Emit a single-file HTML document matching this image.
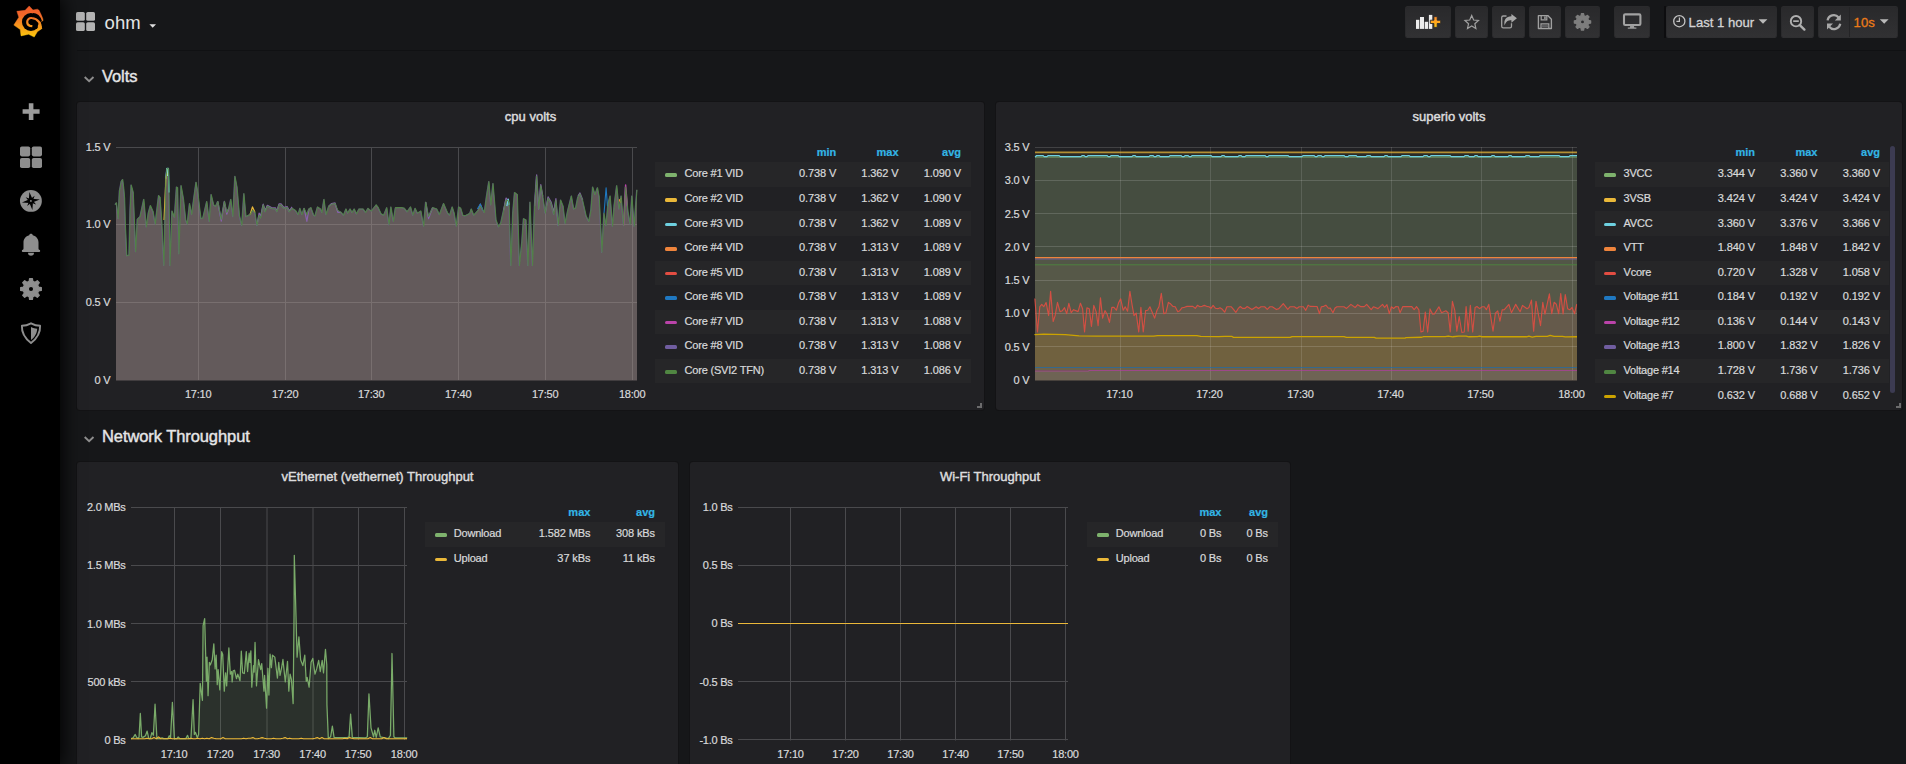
<!DOCTYPE html><html><head><meta charset="utf-8"><title>ohm - Grafana</title>
<style>

*{box-sizing:border-box;margin:0;padding:0}
html,body{width:1906px;height:764px;overflow:hidden;background:#161719;font-family:"Liberation Sans", sans-serif;color:#d8d9da}
.abs{position:absolute}
#side{position:absolute;left:0;top:0;width:60px;height:764px;background:#000;box-shadow:0 0 18px 2px #000;z-index:5}
.panel{position:absolute;background:#212124;border-radius:3px;box-shadow:0 0 0 1px #131315}
.ptitle{position:absolute;left:0;right:0;text-align:center;font-size:13px;line-height:16px;color:#dcdcdd;-webkit-text-stroke:0.45px #dcdcdd}
.yl{-webkit-text-stroke:0.22px #d8d9da;position:absolute;font-size:11px;line-height:12px;text-align:right;white-space:nowrap;color:#d8d9da;letter-spacing:-0.25px}
.xl{-webkit-text-stroke:0.22px #d8d9da;position:absolute;font-size:11px;line-height:12px;text-align:center;white-space:nowrap;width:40px;margin-left:-20px;color:#d8d9da;letter-spacing:-0.2px}
.lrow{position:absolute;height:24.6px}
.lrow.alt{background:#262628}
.lg{-webkit-text-stroke:0.22px #d8d9da;position:absolute;font-size:11px;line-height:13px;white-space:nowrap;color:#d8d9da;letter-spacing:-0.2px}
.lv{-webkit-text-stroke:0.22px #d8d9da;position:absolute;font-size:11px;line-height:13px;white-space:nowrap;text-align:right;color:#d8d9da;width:80px;letter-spacing:-0.1px}
.lh{-webkit-text-stroke:0.2px #33b5e5;position:absolute;font-size:11px;line-height:13px;white-space:nowrap;text-align:right;color:#33b5e5;font-weight:bold;width:80px}
.sw{position:absolute;width:12.1px;height:3.6px;border-radius:1.5px}
.rowt{position:absolute;font-size:16.5px;letter-spacing:-0.08px;line-height:20px;color:#e6e6e7;-webkit-text-stroke:0.42px #e6e6e7;white-space:nowrap}
.nbtn{position:absolute;top:6px;height:32px;border-radius:2.5px;background:linear-gradient(#29292b,#313133);border:1px solid #2a2a2c;border-bottom-color:#2f2f31}
svg{position:absolute;left:0;top:0;overflow:visible}

</style></head><body>
<div class="panel" style="left:77px;top:102px;width:907px;height:308px"><div class="ptitle" style="top:7px">cpu volts</div></div>
<div class="panel" style="left:996px;top:102px;width:906px;height:308px"><div class="ptitle" style="top:7px">superio volts</div></div>
<div class="panel" style="border-radius:3px 3px 0 0;left:77px;top:462px;width:601px;height:302px"><div class="ptitle" style="top:7px">vEthernet (vethernet) Throughput</div></div>
<div class="panel" style="border-radius:3px 3px 0 0;left:690px;top:462px;width:600px;height:302px"><div class="ptitle" style="top:7px">Wi-Fi Throughput</div></div>
<div class="abs" style="left:977px;top:403px;width:5px;height:5px;border-right:2px solid #6b6b6c;border-bottom:2px solid #6b6b6c"></div>
<div class="abs" style="left:1896px;top:403px;width:5px;height:5px;border-right:2px solid #6b6b6c;border-bottom:2px solid #6b6b6c"></div>
<svg width="1906" height="764" viewBox="0 0 1906 764">
<g id="c1">
<rect x="116.0" y="147.0" width="521.0" height="1" fill="#4a4a4d"/><rect x="116.0" y="224.0" width="521.0" height="1" fill="#4a4a4d"/><rect x="116.0" y="302.0" width="521.0" height="1" fill="#4a4a4d"/><rect x="198.0" y="147.0" width="1" height="233.0" fill="#4a4a4d"/><rect x="285.0" y="147.0" width="1" height="233.0" fill="#4a4a4d"/><rect x="371.0" y="147.0" width="1" height="233.0" fill="#4a4a4d"/><rect x="458.0" y="147.0" width="1" height="233.0" fill="#4a4a4d"/><rect x="545.0" y="147.0" width="1" height="233.0" fill="#4a4a4d"/><rect x="632.0" y="147.0" width="1" height="233.0" fill="#4a4a4d"/>
<path d="M116.00 380.50 L116.00 204.18 L115.44 204.18 L116.54 202.81 L118.19 218.62 L119.56 191.12 L121.35 181.50 L122.72 179.43 L123.69 187.00 L124.65 197.99 L125.47 225.49 L126.85 255.73 L129.18 255.05 L130.15 211.74 L131.25 184.93 L133.31 192.50 L134.68 225.49 L135.65 251.61 L137.43 219.30 L140.18 216.55 L143.89 199.37 L146.37 226.86 L148.43 213.12 L150.49 205.56 L153.24 211.74 L155.30 224.11 L158.74 195.52 L160.12 197.31 L161.77 219.99 L163.97 265.36 L165.89 178.75 L166.99 168.44 L168.37 168.44 L169.05 192.50 L170.01 265.36 L172.08 211.05 L174.55 217.24 L176.61 187.00 L177.71 187.68 L178.95 253.67 L181.15 185.62 L183.49 198.68 L185.82 219.99 L187.34 224.11 L189.67 203.49 L191.74 214.49 L196.14 182.18 L197.92 192.50 L199.98 210.37 L201.08 218.62 L203.01 217.93 L206.86 201.43 L209.33 221.37 L211.26 194.56 L213.73 204.87 L215.79 206.24 L217.86 201.43 L221.29 219.30 L224.46 201.43 L226.79 212.43 L228.85 208.30 L230.92 199.37 L232.98 216.55 L235.04 176.27 L237.10 187.00 L239.58 215.87 L241.91 225.49 L243.98 193.59 L246.04 216.55 L250.16 214.49 L252.50 210.37 L254.97 212.43 L257.04 225.49 L259.10 215.18 L260.75 217.93 L263.22 204.87 L265.29 211.74 L267.35 206.24 L271.47 208.30 L275.60 208.99 L276.97 211.74 L279.03 204.87 L281.10 204.87 L283.84 208.30 L287.28 207.62 L289.34 211.74 L292.09 208.30 L295.53 210.37 L298.28 214.49 L300.00 208.30 L302.06 214.49 L304.12 208.30 L306.87 214.49 L308.94 208.99 L311.00 207.62 L313.75 215.18 L315.12 215.87 L317.60 206.93 L320.62 208.99 L322.00 212.43 L324.06 199.37 L326.12 214.49 L328.87 206.24 L331.62 204.18 L335.06 203.49 L337.81 210.37 L341.24 212.43 L343.72 215.18 L346.05 208.99 L347.84 213.12 L350.18 208.99 L352.24 212.43 L354.30 208.99 L356.64 213.80 L359.11 208.99 L363.24 208.99 L365.71 212.43 L368.05 208.30 L371.49 211.05 L376.30 204.87 L378.36 207.62 L381.11 213.80 L383.86 215.18 L386.88 207.62 L389.08 224.80 L391.01 206.93 L393.48 221.37 L395.55 207.62 L401.73 207.62 L404.48 208.30 L407.23 211.74 L410.67 206.93 L413.01 215.18 L415.20 208.30 L417.54 213.12 L420.98 211.05 L423.73 226.18 L425.79 202.12 L428.54 216.55 L432.66 207.62 L436.79 208.99 L439.54 214.49 L443.66 203.49 L447.79 213.12 L449.85 215.18 L452.32 206.93 L454.25 213.12 L456.45 226.18 L458.78 206.93 L460.85 208.30 L462.91 215.18 L464.97 215.87 L469.10 213.80 L470.00 213.12 L471.37 208.99 L473.85 215.18 L478.25 210.37 L480.31 206.24 L482.37 208.99 L484.43 212.43 L486.50 197.31 L488.97 181.50 L490.90 204.87 L493.10 183.56 L495.02 206.24 L496.12 219.99 L498.59 226.86 L500.93 222.74 L503.68 210.37 L506.02 200.06 L508.22 200.74 L509.18 204.87 L510.97 265.36 L512.89 213.12 L514.68 192.50 L517.43 194.56 L518.12 219.99 L519.49 265.36 L521.97 241.99 L523.62 218.62 L526.09 219.99 L528.01 265.36 L530.08 202.12 L532.55 265.36 L534.61 206.24 L536.68 176.00 L538.74 208.99 L540.80 185.62 L542.86 196.62 L545.34 213.12 L548.09 197.99 L551.11 203.49 L553.86 214.49 L555.92 200.06 L558.26 225.49 L560.73 200.06 L563.21 206.24 L565.13 223.43 L567.61 211.74 L571.46 195.93 L573.79 208.99 L575.86 207.62 L577.92 197.31 L579.98 193.87 L582.73 200.74 L586.17 215.87 L588.92 221.37 L590.98 210.37 L592.77 187.00 L595.10 194.56 L597.58 187.68 L599.23 196.62 L600.60 222.74 L601.98 252.30 L604.04 213.12 L606.10 225.49 L608.16 203.49 L610.23 195.93 L612.56 226.18 L614.35 204.87 L616.82 185.62 L619.16 208.99 L621.22 195.93 L623.70 225.49 L625.62 187.00 L628.10 211.74 L630.16 224.11 L631.95 195.93 L634.28 226.18 L637.00 189.75 L637.00 380.50 Z" fill="#a59392" fill-opacity="0.5"/>
<path d="M115.65 204.28 L115.09 204.28 L116.19 202.91 L117.84 218.72 L119.21 191.22 L121.00 181.60 L122.37 179.53 L123.34 187.10 L124.30 198.09 L125.12 225.59 L126.50 255.83 L128.83 255.15 L129.80 211.84 L130.90 185.03 L132.96 192.60 L134.33 225.59 L135.30 251.71 L137.08 219.40 L139.83 216.65 L143.54 199.47 L146.02 226.96 L148.08 213.22 L150.14 205.66 L152.89 211.84 L154.95 224.21 L158.39 195.62 L159.77 197.41 L161.42 220.09 L163.62 265.46 L165.54 178.85 L166.64 168.54 L168.02 168.54 L168.70 192.60 L169.66 265.46 L171.73 211.15 L174.20 217.34 L176.26 187.10 L177.36 187.78 L178.60 253.77 L180.80 185.72 L183.14 198.78 L185.47 220.09 L186.99 224.21 L189.32 203.59 L191.39 214.59 L195.79 182.28 L197.57 192.60 L199.63 210.47 L200.73 218.72 L202.66 218.03 L206.51 201.53 L208.98 221.47 L210.91 194.66 L213.38 204.97 L215.44 206.34 L217.51 201.53 L220.94 219.40 L224.11 201.53 L226.44 212.53 L228.50 208.40 L230.57 199.47 L232.63 216.65 L234.69 176.37 L236.75 187.10 L239.23 215.97 L241.56 225.59 L243.63 193.69 L245.69 216.65 L249.81 214.59 L252.15 210.47 L254.62 212.53 L256.69 225.59 L258.75 215.28 L260.40 218.03 L262.87 204.97 L264.94 211.84 L267.00 206.34 L271.12 208.40 L275.25 209.09 L276.62 211.84 L278.68 204.97 L280.75 204.97 L283.49 208.40 L286.93 207.72 L288.99 211.84 L291.74 208.40 L295.18 210.47 L297.93 214.59 L299.65 208.40 L301.71 214.59 L303.77 208.40 L306.52 214.59 L308.59 209.09 L310.65 207.72 L313.40 215.28 L314.77 215.97 L317.25 207.03 L320.27 209.09 L321.65 212.53 L323.71 199.47 L325.77 214.59 L328.52 206.34 L331.27 204.28 L334.71 203.59 L337.46 210.47 L340.89 212.53 L343.37 215.28 L345.70 209.09 L347.49 213.22 L349.83 209.09 L351.89 212.53 L353.95 209.09 L356.29 213.90 L358.76 209.09 L362.89 209.09 L365.36 212.53 L367.70 208.40 L371.14 211.15 L375.95 204.97 L378.01 207.72 L380.76 213.90 L383.51 215.28 L386.53 207.72 L388.73 224.90 L390.66 207.03 L393.13 221.47 L395.20 207.72 L401.38 207.72 L404.13 208.40 L406.88 211.84 L410.32 207.03 L412.66 215.28 L414.85 208.40 L417.19 213.22 L420.63 211.15 L423.38 226.28 L425.44 202.22 L428.19 216.65 L432.31 207.72 L436.44 209.09 L439.19 214.59 L443.31 203.59 L447.44 213.22 L449.50 215.28 L451.97 207.03 L453.90 213.22 L456.10 226.28 L458.43 207.03 L460.50 208.40 L462.56 215.28 L464.62 215.97 L468.75 213.90 L469.65 213.22 L471.02 209.09 L473.50 215.28 L477.90 210.47 L479.96 206.34 L482.02 209.09 L484.08 212.53 L486.15 197.41 L488.62 181.60 L490.55 204.97 L492.75 183.66 L494.67 206.34 L495.77 220.09 L498.24 226.96 L500.58 222.84 L503.33 210.47 L505.67 200.16 L507.87 200.84 L508.83 204.97 L510.62 265.46 L512.54 213.22 L514.33 192.60 L517.08 194.66 L517.77 220.09 L519.14 265.46 L521.62 242.09 L523.27 218.72 L525.74 220.09 L527.66 265.46 L529.73 202.22 L532.20 265.46 L534.26 206.34 L536.33 176.10 L538.39 209.09 L540.45 185.72 L542.51 196.72 L544.99 213.22 L547.74 198.09 L550.76 203.59 L553.51 214.59 L555.57 200.16 L557.91 225.59 L560.38 200.16 L562.86 206.34 L564.78 223.53 L567.26 211.84 L571.11 196.03 L573.44 209.09 L575.51 207.72 L577.57 197.41 L579.63 193.97 L582.38 200.84 L585.82 215.97 L588.57 221.47 L590.63 210.47 L592.42 187.10 L594.75 194.66 L597.23 187.78 L598.88 196.72 L600.25 222.84 L601.63 252.40 L603.69 213.22 L605.75 225.59 L607.81 203.59 L609.88 196.03 L612.21 226.28 L614.00 204.97 L616.47 185.72 L618.81 209.09 L620.87 196.03 L623.35 225.59 L625.27 187.10 L627.75 211.84 L629.81 224.21 L631.60 196.03 L633.93 226.28 L636.65 189.85" fill="none" stroke="#705da0" stroke-width="1.1" stroke-opacity="0.75" stroke-linejoin="round"/>
<path d="M304.12 208.30 L306.87 221.37 L308.94 208.99" fill="none" stroke="#8a62b0" stroke-width="1.2" stroke-opacity="0.95" stroke-linejoin="round"/>
<path d="M328.87 206.24 L331.62 203.49 L335.06 202.81 L337.81 212.43 L341.24 212.43" fill="none" stroke="#8a62b0" stroke-width="1.2" stroke-opacity="0.95" stroke-linejoin="round"/>
<path d="M425.79 202.12 L428.54 218.62 L432.66 207.62" fill="none" stroke="#8a62b0" stroke-width="1.2" stroke-opacity="0.95" stroke-linejoin="round"/>
<path d="M478.25 210.37 L480.31 204.18 L482.37 208.99" fill="none" stroke="#8a62b0" stroke-width="1.2" stroke-opacity="0.95" stroke-linejoin="round"/>
<path d="M503.68 210.37 L506.02 197.99 L508.22 200.74" fill="none" stroke="#8a62b0" stroke-width="1.2" stroke-opacity="0.95" stroke-linejoin="round"/>
<path d="M545.34 213.12 L548.09 196.89 L551.11 202.12 L553.86 211.74 L555.92 198.68 L558.26 225.49" fill="none" stroke="#8a62b0" stroke-width="1.2" stroke-opacity="0.95" stroke-linejoin="round"/>
<path d="M577.92 196.34 L579.98 192.91 L582.73 200.06" fill="none" stroke="#8a62b0" stroke-width="1.2" stroke-opacity="0.95" stroke-linejoin="round"/>
<path d="M534.61 206.24 L536.68 174.90 L538.74 208.99 L540.80 184.52 L542.86 196.62" fill="none" stroke="#8a62b0" stroke-width="1.2" stroke-opacity="0.95" stroke-linejoin="round"/>
<path d="M217.86 201.43 L221.29 221.09 L224.46 201.43 L226.79 214.22 L228.85 208.30" fill="none" stroke="#8a62b0" stroke-width="1.2" stroke-opacity="0.95" stroke-linejoin="round"/>
<path d="M257.04 225.49 L259.10 213.12 L260.75 215.87 L263.22 204.18 L265.29 210.37 L267.35 205.28 L271.47 207.62 L275.60 207.89 L276.97 211.05 L279.03 203.91 L281.10 203.91 L283.84 207.34 L287.28 206.66 L289.34 210.78 L292.09 206.93" fill="none" stroke="#8a62b0" stroke-width="1.2" stroke-opacity="0.95" stroke-linejoin="round"/>
<path d="M165.89 178.75 L166.99 168.44 L168.37 168.44 L169.05 192.50" fill="none" stroke="#6ed0e0" stroke-width="1.4" stroke-opacity="1" stroke-linejoin="round"/>
<rect x="166.6" y="168" width="2.2" height="8" fill="#8fdde6"/>
<path d="M163.97 219.99 L165.89 178.75 L166.99 173.25" fill="none" stroke="#eab839" stroke-width="1.1" stroke-opacity="1" stroke-linejoin="round"/>
<path d="M250.16 214.49 L252.50 206.93 L254.97 212.43" fill="none" stroke="#eab839" stroke-width="1.3" stroke-opacity="1" stroke-linejoin="round"/>
<path d="M604.04 213.12 L606.10 187.68 L607.48 206.24" fill="none" stroke="#1f78c1" stroke-width="1.1" stroke-opacity="1" stroke-linejoin="round"/>
<path d="M477.34 208.99 L480.37 203.91 L482.84 210.37" fill="none" stroke="#1f78c1" stroke-width="1.1" stroke-opacity="1" stroke-linejoin="round"/>
<path d="M623.70 225.49 L625.62 184.93 L627.41 206.24" fill="none" stroke="#ba43a9" stroke-width="1.4" stroke-opacity="1" stroke-linejoin="round"/>
<path d="M506.84 206.24 L508.22 199.09 L509.18 204.87" fill="none" stroke="#6ed0e0" stroke-width="1.3" stroke-opacity="1" stroke-linejoin="round"/>
<path d="M619.16 199.37 L620.54 202.12 L621.22 197.99" fill="none" stroke="#ef843c" stroke-width="1.3" stroke-opacity="1" stroke-linejoin="round"/>
<path d="M116.00 204.18 L115.44 204.18 L116.54 202.81 L118.19 218.62 L119.56 191.12 L121.35 181.50 L122.72 179.43 L123.69 187.00 L124.65 197.99 L125.47 225.49 L126.85 255.73 L129.18 255.05 L130.15 211.74 L131.25 184.93 L133.31 192.50 L134.68 225.49 L135.65 251.61 L137.43 219.30 L140.18 216.55 L143.89 199.37 L146.37 226.86 L148.43 213.12 L150.49 205.56 L153.24 211.74 L155.30 224.11 L158.74 195.52 L160.12 197.31 L161.77 219.99 L163.97 265.36 L165.89 178.75 L166.99 168.44 L168.37 168.44 L169.05 192.50 L170.01 265.36 L172.08 211.05 L174.55 217.24 L176.61 187.00 L177.71 187.68 L178.95 253.67 L181.15 185.62 L183.49 198.68 L185.82 219.99 L187.34 224.11 L189.67 203.49 L191.74 214.49 L196.14 182.18 L197.92 192.50 L199.98 210.37 L201.08 218.62 L203.01 217.93 L206.86 201.43 L209.33 221.37 L211.26 194.56 L213.73 204.87 L215.79 206.24 L217.86 201.43 L221.29 219.30 L224.46 201.43 L226.79 212.43 L228.85 208.30 L230.92 199.37 L232.98 216.55 L235.04 176.27 L237.10 187.00 L239.58 215.87 L241.91 225.49 L243.98 193.59 L246.04 216.55 L250.16 214.49 L252.50 210.37 L254.97 212.43 L257.04 225.49 L259.10 215.18 L260.75 217.93 L263.22 204.87 L265.29 211.74 L267.35 206.24 L271.47 208.30 L275.60 208.99 L276.97 211.74 L279.03 204.87 L281.10 204.87 L283.84 208.30 L287.28 207.62 L289.34 211.74 L292.09 208.30 L295.53 210.37 L298.28 214.49 L300.00 208.30 L302.06 214.49 L304.12 208.30 L306.87 214.49 L308.94 208.99 L311.00 207.62 L313.75 215.18 L315.12 215.87 L317.60 206.93 L320.62 208.99 L322.00 212.43 L324.06 199.37 L326.12 214.49 L328.87 206.24 L331.62 204.18 L335.06 203.49 L337.81 210.37 L341.24 212.43 L343.72 215.18 L346.05 208.99 L347.84 213.12 L350.18 208.99 L352.24 212.43 L354.30 208.99 L356.64 213.80 L359.11 208.99 L363.24 208.99 L365.71 212.43 L368.05 208.30 L371.49 211.05 L376.30 204.87 L378.36 207.62 L381.11 213.80 L383.86 215.18 L386.88 207.62 L389.08 224.80 L391.01 206.93 L393.48 221.37 L395.55 207.62 L401.73 207.62 L404.48 208.30 L407.23 211.74 L410.67 206.93 L413.01 215.18 L415.20 208.30 L417.54 213.12 L420.98 211.05 L423.73 226.18 L425.79 202.12 L428.54 216.55 L432.66 207.62 L436.79 208.99 L439.54 214.49 L443.66 203.49 L447.79 213.12 L449.85 215.18 L452.32 206.93 L454.25 213.12 L456.45 226.18 L458.78 206.93 L460.85 208.30 L462.91 215.18 L464.97 215.87 L469.10 213.80 L470.00 213.12 L471.37 208.99 L473.85 215.18 L478.25 210.37 L480.31 206.24 L482.37 208.99 L484.43 212.43 L486.50 197.31 L488.97 181.50 L490.90 204.87 L493.10 183.56 L495.02 206.24 L496.12 219.99 L498.59 226.86 L500.93 222.74 L503.68 210.37 L506.02 200.06 L508.22 200.74 L509.18 204.87 L510.97 265.36 L512.89 213.12 L514.68 192.50 L517.43 194.56 L518.12 219.99 L519.49 265.36 L521.97 241.99 L523.62 218.62 L526.09 219.99 L528.01 265.36 L530.08 202.12 L532.55 265.36 L534.61 206.24 L536.68 176.00 L538.74 208.99 L540.80 185.62 L542.86 196.62 L545.34 213.12 L548.09 197.99 L551.11 203.49 L553.86 214.49 L555.92 200.06 L558.26 225.49 L560.73 200.06 L563.21 206.24 L565.13 223.43 L567.61 211.74 L571.46 195.93 L573.79 208.99 L575.86 207.62 L577.92 197.31 L579.98 193.87 L582.73 200.74 L586.17 215.87 L588.92 221.37 L590.98 210.37 L592.77 187.00 L595.10 194.56 L597.58 187.68 L599.23 196.62 L600.60 222.74 L601.98 252.30 L604.04 213.12 L606.10 225.49 L608.16 203.49 L610.23 195.93 L612.56 226.18 L614.35 204.87 L616.82 185.62 L619.16 208.99 L621.22 195.93 L623.70 225.49 L625.62 187.00 L628.10 211.74 L630.16 224.11 L631.95 195.93 L634.28 226.18 L637.00 189.75" fill="none" stroke="#508642" stroke-width="1.05" stroke-opacity="0.92" stroke-linejoin="round"/>
</g>
<g id="c2">
<rect x="1035" y="152.36" width="542" height="4.13" fill="#2a2a27"/>
<rect x="1035" y="156.49" width="542" height="101.19" fill="#454d40"/>
<rect x="1035" y="257.68" width="542" height="7.06" fill="#525647"/>
<rect x="1035" y="264.73" width="542" height="75.27" fill="#565848"/>
<path d="M1035.00 340.00 L1035.00 298.88 L1034.91 298.88 L1037.46 331.85 L1039.81 306.73 L1041.78 304.38 L1043.74 306.73 L1046.09 302.41 L1048.65 315.56 L1050.61 291.42 L1053.16 321.45 L1055.12 315.56 L1057.48 302.41 L1060.03 311.64 L1062.38 310.66 L1064.54 307.71 L1066.70 313.60 L1068.86 303.40 L1071.22 312.62 L1073.57 309.68 L1078.09 311.64 L1080.44 303.20 L1082.60 308.69 L1084.56 331.85 L1086.92 307.71 L1089.27 308.69 L1091.43 326.36 L1093.79 305.36 L1096.14 311.64 L1098.11 325.77 L1100.46 297.90 L1102.62 318.12 L1104.98 310.66 L1107.13 314.19 L1109.49 322.43 L1111.84 307.32 L1114.00 307.32 L1116.36 310.26 L1118.71 302.41 L1120.68 298.88 L1123.23 310.26 L1125.19 306.73 L1127.55 311.25 L1129.90 291.42 L1132.06 304.77 L1134.02 315.56 L1136.18 313.01 L1138.73 331.85 L1140.89 307.32 L1143.25 331.85 L1145.60 310.66 L1147.76 310.26 L1149.92 306.73 L1154.63 318.12 L1156.99 310.26 L1158.95 306.73 L1161.31 293.39 L1163.86 313.60 L1165.82 313.01 L1168.37 302.41 L1170.53 303.79 L1172.89 306.34 L1175.24 306.73 L1177.79 311.64 L1179.75 310.66 L1182.11 307.71 L1184.47 307.32 L1187.02 306.34 L1192.90 306.34 L1195.26 308.30 L1197.42 305.36 L1199.77 306.73 L1202.13 306.34 L1204.29 305.36 L1206.64 306.34 L1209.00 306.73 L1210.96 308.30 L1213.12 305.36 L1215.48 308.30 L1217.83 308.69 L1219.99 307.71 L1222.35 309.28 L1224.70 312.23 L1226.89 306.74 L1231.14 306.74 L1233.50 309.39 L1235.86 312.41 L1238.22 308.44 L1240.30 306.55 L1242.47 308.44 L1244.83 308.44 L1247.19 306.55 L1249.55 307.97 L1251.91 309.58 L1256.16 306.74 L1258.53 308.44 L1260.89 306.74 L1264.66 306.74 L1267.31 309.39 L1269.86 306.74 L1272.22 306.74 L1276.47 309.58 L1278.83 308.63 L1283.27 303.53 L1287.80 309.39 L1290.16 306.74 L1294.41 306.74 L1296.77 308.44 L1299.13 306.74 L1303.38 306.74 L1305.74 310.33 L1308.11 305.14 L1309.99 306.36 L1317.08 306.55 L1319.44 313.64 L1321.33 306.74 L1323.69 306.36 L1325.86 305.14 L1328.41 308.25 L1330.30 307.97 L1332.94 312.69 L1335.02 307.97 L1336.91 306.74 L1343.99 306.74 L1346.54 308.44 L1350.89 304.38 L1355.14 307.50 L1357.68 304.67 L1360.52 306.55 L1364.30 306.55 L1366.66 304.38 L1371.19 309.58 L1373.55 306.74 L1377.99 308.63 L1382.52 304.38 L1384.60 307.31 L1386.96 304.67 L1389.32 313.64 L1391.40 306.74 L1393.57 308.44 L1395.93 306.55 L1398.29 306.74 L1400.00 312.69 L1402.83 306.55 L1411.80 306.55 L1414.17 309.58 L1416.53 306.55 L1418.89 309.86 L1420.97 331.86 L1423.14 331.11 L1425.31 312.03 L1427.67 332.05 L1430.03 308.91 L1432.58 314.11 L1434.47 313.92 L1438.91 306.74 L1441.55 312.69 L1445.80 310.80 L1448.16 312.69 L1450.24 331.86 L1452.41 301.36 L1454.77 310.33 L1456.85 331.11 L1459.21 316.47 L1461.86 332.52 L1464.22 332.05 L1466.11 306.55 L1468.18 331.11 L1470.36 305.42 L1472.72 332.05 L1475.08 307.50 L1476.97 306.55 L1479.61 308.63 L1482.16 306.74 L1484.33 306.74 L1486.41 309.58 L1488.77 304.38 L1493.02 331.11 L1495.38 313.16 L1497.74 310.80 L1499.92 321.19 L1502.18 309.86 L1504.35 309.58 L1508.89 304.38 L1511.44 312.69 L1515.69 304.38 L1520.12 311.75 L1522.49 305.42 L1527.02 308.73 L1528.91 307.50 L1531.46 300.13 L1533.63 331.11 L1535.99 301.36 L1540.52 325.63 L1542.79 302.30 L1544.96 314.11 L1549.40 293.80 L1551.76 313.64 L1554.12 302.30 L1556.29 304.19 L1558.66 313.64 L1560.73 293.52 L1563.09 313.92 L1565.27 294.47 L1567.63 308.63 L1569.80 309.86 L1572.07 307.50 L1574.52 313.64 L1576.60 304.67 L1577.00 304.67 L1577.00 340.00 Z" fill="#655a4b"/>
<path d="M1035.00 367.52 L1035.00 334.60 L1034.91 334.60 L1043.74 334.21 L1065.33 334.60 L1079.07 335.78 L1096.73 336.17 L1153.65 336.17 L1157.58 335.58 L1196.83 335.58 L1200.76 336.37 L1218.42 336.57 L1225.00 336.30 L1231.61 336.30 L1233.50 337.43 L1290.16 337.43 L1292.05 336.58 L1343.99 336.58 L1346.35 337.43 L1374.21 337.43 L1376.10 338.19 L1405.00 338.19 L1405.67 337.72 L1421.72 337.25 L1423.61 336.58 L1445.33 336.58 L1448.16 336.02 L1452.89 336.77 L1458.55 336.21 L1466.11 336.21 L1468.94 336.77 L1477.44 336.58 L1479.80 336.11 L1482.16 336.77 L1526.55 336.77 L1528.91 336.21 L1532.21 337.06 L1535.99 336.40 L1547.32 336.30 L1550.16 335.45 L1553.93 336.40 L1562.43 336.30 L1565.27 336.96 L1576.60 336.77 L1577.00 336.77 L1577.00 367.52 Z" fill="#70613f"/>
<rect x="1035" y="367.52" width="542" height="3.26" fill="#6d6249"/>
<rect x="1035" y="370.78" width="542" height="9.72" fill="#6e6354"/>
<rect x="1035" y="147.0" width="542" height="1" fill="#ffffff" fill-opacity="0.15"/>
<rect x="1035" y="180.0" width="542" height="1" fill="#ffffff" fill-opacity="0.15"/>
<rect x="1035" y="213.0" width="542" height="1" fill="#ffffff" fill-opacity="0.15"/>
<rect x="1035" y="246.0" width="542" height="1" fill="#ffffff" fill-opacity="0.15"/>
<rect x="1035" y="280.0" width="542" height="1" fill="#ffffff" fill-opacity="0.15"/>
<rect x="1035" y="313.0" width="542" height="1" fill="#ffffff" fill-opacity="0.15"/>
<rect x="1035" y="346.0" width="542" height="1" fill="#ffffff" fill-opacity="0.15"/>
<rect x="1120.0" y="147" width="1" height="233" fill="#ffffff" fill-opacity="0.12"/>
<rect x="1210.0" y="147" width="1" height="233" fill="#ffffff" fill-opacity="0.12"/>
<rect x="1301.0" y="147" width="1" height="233" fill="#ffffff" fill-opacity="0.12"/>
<rect x="1391.0" y="147" width="1" height="233" fill="#ffffff" fill-opacity="0.12"/>
<rect x="1481.0" y="147" width="1" height="233" fill="#ffffff" fill-opacity="0.12"/>
<rect x="1572.0" y="147" width="1" height="233" fill="#ffffff" fill-opacity="0.12"/>
<line x1="1035" x2="1577" y1="152.36" y2="152.36" stroke="#eab839" stroke-width="1.6" stroke-opacity="0.72"/>
<line x1="1035" x2="1577" y1="157.02" y2="157.02" stroke="#7eb26d" stroke-width="1.0" stroke-opacity="0.9"/>
<path d="M1035.00 156.92 L1037.00 155.56 L1036.20 155.56 L1043.00 155.56 L1044.20 156.62 L1047.00 156.62 L1048.20 155.56 L1059.00 155.56 L1060.20 156.62 L1081.00 156.62 L1082.20 155.56 L1084.00 155.56 L1085.20 156.62 L1087.00 156.62 L1088.20 155.56 L1107.00 155.56 L1108.20 156.62 L1110.00 156.62 L1111.20 155.56 L1118.00 155.56 L1119.20 156.62 L1132.00 156.62 L1133.20 155.56 L1135.00 155.56 L1136.20 156.62 L1149.00 156.62 L1150.20 155.56 L1153.00 155.56 L1154.20 156.62 L1156.00 156.62 L1157.20 155.56 L1159.00 155.56 L1160.20 156.62 L1169.00 156.62 L1170.20 155.56 L1181.00 155.56 L1182.20 156.62 L1184.00 156.62 L1185.20 155.56 L1188.00 155.56 L1189.20 156.62 L1191.00 156.62 L1192.20 155.56 L1211.00 155.56 L1212.20 156.62 L1221.00 156.62 L1222.20 155.56 L1224.00 155.56 L1225.20 156.62 L1238.00 156.62 L1239.20 155.56 L1241.00 155.56 L1242.20 156.62 L1245.00 156.62 L1246.20 155.56 L1265.00 155.56 L1266.20 156.62 L1268.00 156.62 L1269.20 155.56 L1288.00 155.56 L1289.20 156.62 L1302.00 156.62 L1303.20 155.56 L1314.00 155.56 L1315.20 156.62 L1317.00 156.62 L1318.20 155.56 L1321.00 155.56 L1322.20 156.62 L1324.00 156.62 L1325.20 155.56 L1344.00 155.56 L1345.20 156.62 L1348.00 156.62 L1349.20 155.56 L1356.00 155.56 L1357.20 156.62 L1366.00 156.62 L1367.20 155.56 L1370.00 155.56 L1371.20 156.62 L1384.00 156.62 L1385.20 155.56 L1387.00 155.56 L1388.20 156.62 L1401.00 156.62 L1402.20 155.56 L1409.00 155.56 L1410.20 156.62 L1423.00 156.62 L1424.20 155.56 L1427.00 155.56 L1428.20 156.62 L1430.00 156.62 L1431.20 155.56 L1450.00 155.56 L1451.20 156.62 L1464.00 156.62 L1465.20 155.56 L1468.00 155.56 L1469.20 156.62 L1474.00 156.62 L1475.20 155.56 L1477.00 155.56 L1478.20 156.62 L1491.00 156.62 L1492.20 155.56 L1494.00 155.56 L1495.20 156.62 L1508.00 156.62 L1509.20 155.56 L1511.00 155.56 L1512.20 156.62 L1525.00 156.62 L1526.20 155.56 L1529.00 155.56 L1530.20 156.62 L1539.00 156.62 L1540.20 155.56 L1559.00 155.56 L1560.20 156.62 L1569.00 156.62 L1570.20 155.56 L1577.00 155.56" fill="none" stroke="#6ed0e0" stroke-width="1.2" stroke-opacity="1" stroke-linejoin="round"/>
<line x1="1035" x2="1577" y1="259.04" y2="259.04" stroke="#705da0" stroke-width="1.1" stroke-opacity="0.9"/>
<line x1="1035" x2="1577" y1="257.68" y2="257.68" stroke="#ef843c" stroke-width="1.2" stroke-opacity="1"/>
<line x1="1035" x2="1577" y1="264.73" y2="264.73" stroke="#508642" stroke-width="1.1" stroke-opacity="0.95"/>
<path d="M1035.00 298.88 L1034.91 298.88 L1037.46 331.85 L1039.81 306.73 L1041.78 304.38 L1043.74 306.73 L1046.09 302.41 L1048.65 315.56 L1050.61 291.42 L1053.16 321.45 L1055.12 315.56 L1057.48 302.41 L1060.03 311.64 L1062.38 310.66 L1064.54 307.71 L1066.70 313.60 L1068.86 303.40 L1071.22 312.62 L1073.57 309.68 L1078.09 311.64 L1080.44 303.20 L1082.60 308.69 L1084.56 331.85 L1086.92 307.71 L1089.27 308.69 L1091.43 326.36 L1093.79 305.36 L1096.14 311.64 L1098.11 325.77 L1100.46 297.90 L1102.62 318.12 L1104.98 310.66 L1107.13 314.19 L1109.49 322.43 L1111.84 307.32 L1114.00 307.32 L1116.36 310.26 L1118.71 302.41 L1120.68 298.88 L1123.23 310.26 L1125.19 306.73 L1127.55 311.25 L1129.90 291.42 L1132.06 304.77 L1134.02 315.56 L1136.18 313.01 L1138.73 331.85 L1140.89 307.32 L1143.25 331.85 L1145.60 310.66 L1147.76 310.26 L1149.92 306.73 L1154.63 318.12 L1156.99 310.26 L1158.95 306.73 L1161.31 293.39 L1163.86 313.60 L1165.82 313.01 L1168.37 302.41 L1170.53 303.79 L1172.89 306.34 L1175.24 306.73 L1177.79 311.64 L1179.75 310.66 L1182.11 307.71 L1184.47 307.32 L1187.02 306.34 L1192.90 306.34 L1195.26 308.30 L1197.42 305.36 L1199.77 306.73 L1202.13 306.34 L1204.29 305.36 L1206.64 306.34 L1209.00 306.73 L1210.96 308.30 L1213.12 305.36 L1215.48 308.30 L1217.83 308.69 L1219.99 307.71 L1222.35 309.28 L1224.70 312.23 L1226.89 306.74 L1231.14 306.74 L1233.50 309.39 L1235.86 312.41 L1238.22 308.44 L1240.30 306.55 L1242.47 308.44 L1244.83 308.44 L1247.19 306.55 L1249.55 307.97 L1251.91 309.58 L1256.16 306.74 L1258.53 308.44 L1260.89 306.74 L1264.66 306.74 L1267.31 309.39 L1269.86 306.74 L1272.22 306.74 L1276.47 309.58 L1278.83 308.63 L1283.27 303.53 L1287.80 309.39 L1290.16 306.74 L1294.41 306.74 L1296.77 308.44 L1299.13 306.74 L1303.38 306.74 L1305.74 310.33 L1308.11 305.14 L1309.99 306.36 L1317.08 306.55 L1319.44 313.64 L1321.33 306.74 L1323.69 306.36 L1325.86 305.14 L1328.41 308.25 L1330.30 307.97 L1332.94 312.69 L1335.02 307.97 L1336.91 306.74 L1343.99 306.74 L1346.54 308.44 L1350.89 304.38 L1355.14 307.50 L1357.68 304.67 L1360.52 306.55 L1364.30 306.55 L1366.66 304.38 L1371.19 309.58 L1373.55 306.74 L1377.99 308.63 L1382.52 304.38 L1384.60 307.31 L1386.96 304.67 L1389.32 313.64 L1391.40 306.74 L1393.57 308.44 L1395.93 306.55 L1398.29 306.74 L1400.00 312.69 L1402.83 306.55 L1411.80 306.55 L1414.17 309.58 L1416.53 306.55 L1418.89 309.86 L1420.97 331.86 L1423.14 331.11 L1425.31 312.03 L1427.67 332.05 L1430.03 308.91 L1432.58 314.11 L1434.47 313.92 L1438.91 306.74 L1441.55 312.69 L1445.80 310.80 L1448.16 312.69 L1450.24 331.86 L1452.41 301.36 L1454.77 310.33 L1456.85 331.11 L1459.21 316.47 L1461.86 332.52 L1464.22 332.05 L1466.11 306.55 L1468.18 331.11 L1470.36 305.42 L1472.72 332.05 L1475.08 307.50 L1476.97 306.55 L1479.61 308.63 L1482.16 306.74 L1484.33 306.74 L1486.41 309.58 L1488.77 304.38 L1493.02 331.11 L1495.38 313.16 L1497.74 310.80 L1499.92 321.19 L1502.18 309.86 L1504.35 309.58 L1508.89 304.38 L1511.44 312.69 L1515.69 304.38 L1520.12 311.75 L1522.49 305.42 L1527.02 308.73 L1528.91 307.50 L1531.46 300.13 L1533.63 331.11 L1535.99 301.36 L1540.52 325.63 L1542.79 302.30 L1544.96 314.11 L1549.40 293.80 L1551.76 313.64 L1554.12 302.30 L1556.29 304.19 L1558.66 313.64 L1560.73 293.52 L1563.09 313.92 L1565.27 294.47 L1567.63 308.63 L1569.80 309.86 L1572.07 307.50 L1574.52 313.64 L1576.60 304.67 L1577.00 304.67" fill="none" stroke="#e24d42" stroke-width="1.15" stroke-opacity="0.88" stroke-linejoin="round"/>
<path d="M1035.00 334.60 L1034.91 334.60 L1043.74 334.21 L1065.33 334.60 L1079.07 335.78 L1096.73 336.17 L1153.65 336.17 L1157.58 335.58 L1196.83 335.58 L1200.76 336.37 L1218.42 336.57 L1225.00 336.30 L1231.61 336.30 L1233.50 337.43 L1290.16 337.43 L1292.05 336.58 L1343.99 336.58 L1346.35 337.43 L1374.21 337.43 L1376.10 338.19 L1405.00 338.19 L1405.67 337.72 L1421.72 337.25 L1423.61 336.58 L1445.33 336.58 L1448.16 336.02 L1452.89 336.77 L1458.55 336.21 L1466.11 336.21 L1468.94 336.77 L1477.44 336.58 L1479.80 336.11 L1482.16 336.77 L1526.55 336.77 L1528.91 336.21 L1532.21 337.06 L1535.99 336.40 L1547.32 336.30 L1550.16 335.45 L1553.93 336.40 L1562.43 336.30 L1565.27 336.96 L1576.60 336.77 L1577.00 336.77" fill="none" stroke="#cca300" stroke-width="1.3" stroke-opacity="1" stroke-linejoin="round"/>
<line x1="1035" x2="1577" y1="367.52" y2="367.52" stroke="#1f78c1" stroke-width="1.2" stroke-opacity="0.6"/>
<path d="M1035.00 370.95 L1088.00 370.95 L1089.50 370.45 L1577.00 370.45" fill="none" stroke="#ba43a9" stroke-width="1.15" stroke-opacity="0.68" stroke-linejoin="round"/>
</g>
<g id="c3">
<rect x="131.0" y="507.0" width="276.0" height="1" fill="#4a4a4d"/><rect x="131.0" y="565.0" width="276.0" height="1" fill="#4a4a4d"/><rect x="131.0" y="623.0" width="276.0" height="1" fill="#4a4a4d"/><rect x="131.0" y="681.0" width="276.0" height="1" fill="#4a4a4d"/><rect x="174.0" y="507.0" width="1" height="233.0" fill="#4a4a4d"/><rect x="220.0" y="507.0" width="1" height="233.0" fill="#4a4a4d"/><rect x="266.5" y="507.0" width="1" height="233.0" fill="#4a4a4d"/><rect x="312.5" y="507.0" width="1" height="233.0" fill="#4a4a4d"/><rect x="358.0" y="507.0" width="1" height="233.0" fill="#4a4a4d"/><rect x="404.0" y="507.0" width="1" height="233.0" fill="#4a4a4d"/>
<path d="M131.00 739.50 L131.00 738.60 L131.23 738.60 L133.10 737.79 L135.23 734.44 L136.51 737.36 L138.04 738.60 L139.06 736.94 L140.33 713.43 L141.61 736.94 L142.88 737.36 L145.44 735.71 L147.14 731.03 L148.84 738.60 L150.28 738.60 L151.82 732.56 L153.35 735.29 L155.05 704.24 L156.92 738.60 L160.32 738.60 L162.02 737.79 L163.72 738.60 L167.98 738.60 L169.25 735.71 L170.53 737.79 L172.40 702.28 L174.36 738.60 L176.91 738.60 L178.18 736.94 L179.88 738.60 L185.84 738.60 L187.54 735.29 L188.81 738.60 L190.94 738.60 L193.07 699.56 L194.34 734.44 L195.45 732.31 L197.32 737.79 L198.60 734.44 L200.21 683.30 L202.43 700.31 L203.09 625.71 L204.66 618.51 L205.71 655.81 L206.36 681.34 L207.02 657.12 L208.06 695.73 L209.37 662.36 L210.29 664.97 L212.25 659.74 L213.82 643.77 L215.13 668.90 L216.18 655.16 L217.23 684.61 L218.14 669.55 L219.84 689.84 L221.68 651.62 L222.72 654.50 L224.29 691.15 L225.60 672.83 L226.65 685.92 L228.87 647.96 L230.31 674.14 L231.62 671.52 L232.15 681.99 L233.19 670.86 L234.50 670.21 L236.47 678.72 L237.77 674.14 L240.00 680.68 L241.31 651.23 L242.62 672.83 L244.32 673.48 L246.28 651.62 L247.59 671.52 L249.16 653.19 L249.95 662.36 L250.86 650.84 L251.78 687.23 L253.48 665.63 L254.14 672.17 L255.05 642.46 L256.49 685.92 L258.46 659.74 L260.68 669.55 L261.73 663.66 L263.95 691.15 L264.61 675.45 L266.57 708.17 L267.88 668.25 L268.93 695.08 L270.10 654.24 L271.41 667.59 L272.46 655.16 L274.82 657.12 L277.43 678.06 L278.74 662.36 L280.05 675.45 L281.62 667.59 L282.93 659.48 L285.29 681.99 L287.51 661.31 L288.82 691.15 L290.13 674.14 L291.44 679.37 L293.14 703.59 L294.06 612.62 L294.30 555.30 L296.02 616.54 L297.07 657.12 L298.90 636.83 L300.60 659.74 L302.83 665.63 L304.79 655.16 L306.23 681.34 L307.15 677.41 L309.11 687.23 L311.07 662.36 L312.77 658.43 L315.00 674.14 L316.70 668.90 L318.66 660.39 L320.24 671.52 L322.20 660.39 L323.51 672.83 L325.47 649.27 L326.78 664.97 L326.93 704.86 L328.32 738.60 L330.63 736.82 L332.36 726.21 L334.09 737.40 L346.78 737.74 L349.09 736.82 L350.59 714.09 L352.33 737.40 L365.25 737.97 L367.33 736.82 L368.95 693.89 L371.02 727.94 L373.56 736.82 L374.72 730.25 L376.22 737.40 L378.18 727.94 L380.26 736.82 L388.34 738.55 L390.41 735.44 L391.68 672.54 L392.00 653.50 L393.88 736.82 L395.26 737.97 L406.80 737.97 L407.00 738.30 L407.00 739.50 Z" fill="#7eb26d" fill-opacity="0.11"/>
<path d="M131.00 738.60 L131.23 738.60 L133.10 737.79 L135.23 734.44 L136.51 737.36 L138.04 738.60 L139.06 736.94 L140.33 713.43 L141.61 736.94 L142.88 737.36 L145.44 735.71 L147.14 731.03 L148.84 738.60 L150.28 738.60 L151.82 732.56 L153.35 735.29 L155.05 704.24 L156.92 738.60 L160.32 738.60 L162.02 737.79 L163.72 738.60 L167.98 738.60 L169.25 735.71 L170.53 737.79 L172.40 702.28 L174.36 738.60 L176.91 738.60 L178.18 736.94 L179.88 738.60 L185.84 738.60 L187.54 735.29 L188.81 738.60 L190.94 738.60 L193.07 699.56 L194.34 734.44 L195.45 732.31 L197.32 737.79 L198.60 734.44 L200.21 683.30 L202.43 700.31 L203.09 625.71 L204.66 618.51 L205.71 655.81 L206.36 681.34 L207.02 657.12 L208.06 695.73 L209.37 662.36 L210.29 664.97 L212.25 659.74 L213.82 643.77 L215.13 668.90 L216.18 655.16 L217.23 684.61 L218.14 669.55 L219.84 689.84 L221.68 651.62 L222.72 654.50 L224.29 691.15 L225.60 672.83 L226.65 685.92 L228.87 647.96 L230.31 674.14 L231.62 671.52 L232.15 681.99 L233.19 670.86 L234.50 670.21 L236.47 678.72 L237.77 674.14 L240.00 680.68 L241.31 651.23 L242.62 672.83 L244.32 673.48 L246.28 651.62 L247.59 671.52 L249.16 653.19 L249.95 662.36 L250.86 650.84 L251.78 687.23 L253.48 665.63 L254.14 672.17 L255.05 642.46 L256.49 685.92 L258.46 659.74 L260.68 669.55 L261.73 663.66 L263.95 691.15 L264.61 675.45 L266.57 708.17 L267.88 668.25 L268.93 695.08 L270.10 654.24 L271.41 667.59 L272.46 655.16 L274.82 657.12 L277.43 678.06 L278.74 662.36 L280.05 675.45 L281.62 667.59 L282.93 659.48 L285.29 681.99 L287.51 661.31 L288.82 691.15 L290.13 674.14 L291.44 679.37 L293.14 703.59 L294.06 612.62 L294.30 555.30 L296.02 616.54 L297.07 657.12 L298.90 636.83 L300.60 659.74 L302.83 665.63 L304.79 655.16 L306.23 681.34 L307.15 677.41 L309.11 687.23 L311.07 662.36 L312.77 658.43 L315.00 674.14 L316.70 668.90 L318.66 660.39 L320.24 671.52 L322.20 660.39 L323.51 672.83 L325.47 649.27 L326.78 664.97 L326.93 704.86 L328.32 738.60 L330.63 736.82 L332.36 726.21 L334.09 737.40 L346.78 737.74 L349.09 736.82 L350.59 714.09 L352.33 737.40 L365.25 737.97 L367.33 736.82 L368.95 693.89 L371.02 727.94 L373.56 736.82 L374.72 730.25 L376.22 737.40 L378.18 727.94 L380.26 736.82 L388.34 738.55 L390.41 735.44 L391.68 672.54 L392.00 653.50 L393.88 736.82 L395.26 737.97 L406.80 737.97 L407.00 738.30" fill="none" stroke="#7eb26d" stroke-width="1.25" stroke-opacity="0.95" stroke-linejoin="round"/>
<path d="M131.00 739.80 L131.00 738.70 L133.30 738.70 L135.60 738.70 L137.90 738.70 L140.20 738.70 L142.50 738.70 L144.80 738.70 L147.10 738.20 L149.40 738.70 L151.70 738.70 L154.00 737.60 L156.30 738.70 L158.60 736.90 L160.90 738.70 L163.20 738.70 L165.50 738.70 L167.80 738.70 L170.10 738.20 L172.40 738.70 L174.70 738.70 L177.00 738.70 L179.30 738.70 L181.60 738.70 L183.90 738.70 L186.20 738.70 L188.50 738.70 L190.80 738.20 L193.10 738.70 L195.40 738.70 L197.70 738.20 L200.00 738.70 L202.30 738.20 L204.60 738.70 L206.90 738.20 L209.20 738.70 L211.50 737.60 L213.80 738.20 L216.10 738.70 L218.40 738.70 L220.70 738.70 L223.00 737.60 L225.30 738.70 L227.60 738.70 L229.90 738.70 L232.20 738.70 L234.50 738.70 L236.80 738.70 L239.10 738.70 L241.40 738.70 L243.70 738.20 L246.00 738.70 L248.30 738.20 L250.60 738.20 L252.90 737.60 L255.20 738.70 L257.50 738.70 L259.80 738.20 L262.10 737.60 L264.40 738.20 L266.70 738.70 L269.00 738.70 L271.30 738.70 L273.60 738.20 L275.90 738.70 L278.20 738.70 L280.50 738.70 L282.80 738.20 L285.10 737.60 L287.40 738.70 L289.70 738.20 L292.00 738.70 L294.30 738.70 L296.60 738.70 L298.90 738.70 L301.20 738.20 L303.50 738.70 L305.80 738.70 L308.10 738.70 L310.40 738.70 L312.70 738.70 L315.00 738.20 L317.30 737.60 L319.60 738.70 L321.90 737.60 L324.20 738.70 L326.50 738.70 L328.80 738.70 L331.10 738.70 L333.40 738.70 L335.70 738.70 L338.00 738.70 L340.30 738.70 L342.60 738.70 L344.90 738.20 L347.20 738.70 L349.50 737.60 L351.80 738.20 L354.10 738.70 L356.40 738.70 L358.70 738.70 L361.00 738.70 L363.30 738.70 L365.60 738.70 L367.90 738.70 L370.20 737.60 L372.50 738.70 L374.80 738.70 L377.10 738.70 L379.40 738.70 L381.70 738.70 L384.00 737.60 L386.30 738.70 L388.60 738.70 L390.90 738.70 L393.20 738.70 L395.50 738.70 L397.80 738.70 L400.10 738.70 L402.40 738.70 L404.70 738.70 L407.00 738.60 L407.00 739.80 Z" fill="#eab839" fill-opacity="0.1"/>
<path d="M131.00 738.70 L133.30 738.70 L135.60 738.70 L137.90 738.70 L140.20 738.70 L142.50 738.70 L144.80 738.70 L147.10 738.20 L149.40 738.70 L151.70 738.70 L154.00 737.60 L156.30 738.70 L158.60 736.90 L160.90 738.70 L163.20 738.70 L165.50 738.70 L167.80 738.70 L170.10 738.20 L172.40 738.70 L174.70 738.70 L177.00 738.70 L179.30 738.70 L181.60 738.70 L183.90 738.70 L186.20 738.70 L188.50 738.70 L190.80 738.20 L193.10 738.70 L195.40 738.70 L197.70 738.20 L200.00 738.70 L202.30 738.20 L204.60 738.70 L206.90 738.20 L209.20 738.70 L211.50 737.60 L213.80 738.20 L216.10 738.70 L218.40 738.70 L220.70 738.70 L223.00 737.60 L225.30 738.70 L227.60 738.70 L229.90 738.70 L232.20 738.70 L234.50 738.70 L236.80 738.70 L239.10 738.70 L241.40 738.70 L243.70 738.20 L246.00 738.70 L248.30 738.20 L250.60 738.20 L252.90 737.60 L255.20 738.70 L257.50 738.70 L259.80 738.20 L262.10 737.60 L264.40 738.20 L266.70 738.70 L269.00 738.70 L271.30 738.70 L273.60 738.20 L275.90 738.70 L278.20 738.70 L280.50 738.70 L282.80 738.20 L285.10 737.60 L287.40 738.70 L289.70 738.20 L292.00 738.70 L294.30 738.70 L296.60 738.70 L298.90 738.70 L301.20 738.20 L303.50 738.70 L305.80 738.70 L308.10 738.70 L310.40 738.70 L312.70 738.70 L315.00 738.20 L317.30 737.60 L319.60 738.70 L321.90 737.60 L324.20 738.70 L326.50 738.70 L328.80 738.70 L331.10 738.70 L333.40 738.70 L335.70 738.70 L338.00 738.70 L340.30 738.70 L342.60 738.70 L344.90 738.20 L347.20 738.70 L349.50 737.60 L351.80 738.20 L354.10 738.70 L356.40 738.70 L358.70 738.70 L361.00 738.70 L363.30 738.70 L365.60 738.70 L367.90 738.70 L370.20 737.60 L372.50 738.70 L374.80 738.70 L377.10 738.70 L379.40 738.70 L381.70 738.70 L384.00 737.60 L386.30 738.70 L388.60 738.70 L390.90 738.70 L393.20 738.70 L395.50 738.70 L397.80 738.70 L400.10 738.70 L402.40 738.70 L404.70 738.70 L407.00 738.60" fill="none" stroke="#eab839" stroke-width="1.15" stroke-opacity="1" stroke-linejoin="round"/>
</g>
<g id="c4">
<rect x="738.0" y="507.0" width="330.0" height="1" fill="#4a4a4d"/><rect x="738.0" y="565.0" width="330.0" height="1" fill="#4a4a4d"/><rect x="738.0" y="623.0" width="330.0" height="1" fill="#4a4a4d"/><rect x="738.0" y="681.0" width="330.0" height="1" fill="#4a4a4d"/><rect x="738.0" y="739.0" width="330.0" height="1" fill="#4a4a4d"/><rect x="790.0" y="507.0" width="1" height="233.5" fill="#4a4a4d"/><rect x="845.0" y="507.0" width="1" height="233.5" fill="#4a4a4d"/><rect x="900.0" y="507.0" width="1" height="233.5" fill="#4a4a4d"/><rect x="955.0" y="507.0" width="1" height="233.5" fill="#4a4a4d"/><rect x="1010.0" y="507.0" width="1" height="233.5" fill="#4a4a4d"/><rect x="1065.0" y="507.0" width="1" height="233.5" fill="#4a4a4d"/>
<rect x="738" y="623" width="330" height="1" fill="#eab839"/>
<rect x="738" y="622.4" width="330" height="0.6" fill="#14152a" fill-opacity="0.6"/>
</g>
</svg>
<div class="yl" style="left:40.3px;width:70px;top:141.0px">1.5 V</div>
<div class="yl" style="left:40.3px;width:70px;top:218.3px">1.0 V</div>
<div class="yl" style="left:40.3px;width:70px;top:296.0px">0.5 V</div>
<div class="yl" style="left:40.3px;width:70px;top:373.8px">0 V</div>
<div class="xl" style="left:198.2px;top:388.2px">17:10</div>
<div class="xl" style="left:285.2px;top:388.2px">17:20</div>
<div class="xl" style="left:371.2px;top:388.2px">17:30</div>
<div class="xl" style="left:458.2px;top:388.2px">17:40</div>
<div class="xl" style="left:545.2px;top:388.2px">17:50</div>
<div class="xl" style="left:632.2px;top:388.2px">18:00</div>
<div class="yl" style="left:959.3px;width:70px;top:141.0px">3.5 V</div>
<div class="yl" style="left:959.3px;width:70px;top:174.3px">3.0 V</div>
<div class="yl" style="left:959.3px;width:70px;top:207.5px">2.5 V</div>
<div class="yl" style="left:959.3px;width:70px;top:240.8px">2.0 V</div>
<div class="yl" style="left:959.3px;width:70px;top:274.0px">1.5 V</div>
<div class="yl" style="left:959.3px;width:70px;top:307.3px">1.0 V</div>
<div class="yl" style="left:959.3px;width:70px;top:340.5px">0.5 V</div>
<div class="yl" style="left:959.3px;width:70px;top:373.8px">0 V</div>
<div class="xl" style="left:1119.4px;top:388.2px">17:10</div>
<div class="xl" style="left:1209.4px;top:388.2px">17:20</div>
<div class="xl" style="left:1300.4px;top:388.2px">17:30</div>
<div class="xl" style="left:1390.4px;top:388.2px">17:40</div>
<div class="xl" style="left:1480.4px;top:388.2px">17:50</div>
<div class="xl" style="left:1571.4px;top:388.2px">18:00</div>
<div class="yl" style="left:55.6px;width:70px;top:501.0px">2.0 MBs</div>
<div class="yl" style="left:55.6px;width:70px;top:559.2px">1.5 MBs</div>
<div class="yl" style="left:55.6px;width:70px;top:617.5px">1.0 MBs</div>
<div class="yl" style="left:55.6px;width:70px;top:675.7px">500 kBs</div>
<div class="yl" style="left:55.6px;width:70px;top:734.0px">0 Bs</div>
<div class="xl" style="left:174.1px;top:748.3px">17:10</div>
<div class="xl" style="left:220.1px;top:748.3px">17:20</div>
<div class="xl" style="left:266.6px;top:748.3px">17:30</div>
<div class="xl" style="left:312.6px;top:748.3px">17:40</div>
<div class="xl" style="left:358.1px;top:748.3px">17:50</div>
<div class="xl" style="left:404.1px;top:748.3px">18:00</div>
<div class="yl" style="left:662.5px;width:70px;top:501.0px">1.0 Bs</div>
<div class="yl" style="left:662.5px;width:70px;top:559.2px">0.5 Bs</div>
<div class="yl" style="left:662.5px;width:70px;top:616.8px">0 Bs</div>
<div class="yl" style="left:662.5px;width:70px;top:675.7px">-0.5 Bs</div>
<div class="yl" style="left:662.5px;width:70px;top:734.0px">-1.0 Bs</div>
<div class="xl" style="left:790.5px;top:748.3px">17:10</div>
<div class="xl" style="left:845.5px;top:748.3px">17:20</div>
<div class="xl" style="left:900.5px;top:748.3px">17:30</div>
<div class="xl" style="left:955.5px;top:748.3px">17:40</div>
<div class="xl" style="left:1010.5px;top:748.3px">17:50</div>
<div class="xl" style="left:1065.5px;top:748.3px">18:00</div>
<div class="lh" style="left:756.2px;top:145.7px">min</div>
<div class="lh" style="left:818.6px;top:145.7px">max</div>
<div class="lh" style="left:881.0px;top:145.7px">avg</div>
<div class="lrow alt" style="left:655px;top:162.20px;width:316px"></div>
<div class="sw" style="left:665.2px;top:173.40px;background:#7eb26d"></div>
<div class="lg" style="left:684.6px;top:167.40px">Core #1 VID</div>
<div class="lv" style="left:756.2px;top:167.40px">0.738 V</div>
<div class="lv" style="left:818.6px;top:167.40px">1.362 V</div>
<div class="lv" style="left:881.0px;top:167.40px">1.090 V</div>
<div class="lrow" style="left:655px;top:186.78px;width:316px"></div>
<div class="sw" style="left:665.2px;top:197.98px;background:#eab839"></div>
<div class="lg" style="left:684.6px;top:191.98px">Core #2 VID</div>
<div class="lv" style="left:756.2px;top:191.98px">0.738 V</div>
<div class="lv" style="left:818.6px;top:191.98px">1.362 V</div>
<div class="lv" style="left:881.0px;top:191.98px">1.090 V</div>
<div class="lrow alt" style="left:655px;top:211.36px;width:316px"></div>
<div class="sw" style="left:665.2px;top:222.56px;background:#6ed0e0"></div>
<div class="lg" style="left:684.6px;top:216.56px">Core #3 VID</div>
<div class="lv" style="left:756.2px;top:216.56px">0.738 V</div>
<div class="lv" style="left:818.6px;top:216.56px">1.362 V</div>
<div class="lv" style="left:881.0px;top:216.56px">1.089 V</div>
<div class="lrow" style="left:655px;top:235.94px;width:316px"></div>
<div class="sw" style="left:665.2px;top:247.14px;background:#ef843c"></div>
<div class="lg" style="left:684.6px;top:241.14px">Core #4 VID</div>
<div class="lv" style="left:756.2px;top:241.14px">0.738 V</div>
<div class="lv" style="left:818.6px;top:241.14px">1.313 V</div>
<div class="lv" style="left:881.0px;top:241.14px">1.089 V</div>
<div class="lrow alt" style="left:655px;top:260.52px;width:316px"></div>
<div class="sw" style="left:665.2px;top:271.72px;background:#e24d42"></div>
<div class="lg" style="left:684.6px;top:265.72px">Core #5 VID</div>
<div class="lv" style="left:756.2px;top:265.72px">0.738 V</div>
<div class="lv" style="left:818.6px;top:265.72px">1.313 V</div>
<div class="lv" style="left:881.0px;top:265.72px">1.089 V</div>
<div class="lrow" style="left:655px;top:285.10px;width:316px"></div>
<div class="sw" style="left:665.2px;top:296.30px;background:#1f78c1"></div>
<div class="lg" style="left:684.6px;top:290.30px">Core #6 VID</div>
<div class="lv" style="left:756.2px;top:290.30px">0.738 V</div>
<div class="lv" style="left:818.6px;top:290.30px">1.313 V</div>
<div class="lv" style="left:881.0px;top:290.30px">1.089 V</div>
<div class="lrow alt" style="left:655px;top:309.68px;width:316px"></div>
<div class="sw" style="left:665.2px;top:320.88px;background:#ba43a9"></div>
<div class="lg" style="left:684.6px;top:314.88px">Core #7 VID</div>
<div class="lv" style="left:756.2px;top:314.88px">0.738 V</div>
<div class="lv" style="left:818.6px;top:314.88px">1.313 V</div>
<div class="lv" style="left:881.0px;top:314.88px">1.088 V</div>
<div class="lrow" style="left:655px;top:334.26px;width:316px"></div>
<div class="sw" style="left:665.2px;top:345.46px;background:#705da0"></div>
<div class="lg" style="left:684.6px;top:339.46px">Core #8 VID</div>
<div class="lv" style="left:756.2px;top:339.46px">0.738 V</div>
<div class="lv" style="left:818.6px;top:339.46px">1.313 V</div>
<div class="lv" style="left:881.0px;top:339.46px">1.088 V</div>
<div class="lrow alt" style="left:655px;top:358.84px;width:316px"></div>
<div class="sw" style="left:665.2px;top:370.04px;background:#508642"></div>
<div class="lg" style="left:684.6px;top:364.04px">Core (SVI2 TFN)</div>
<div class="lv" style="left:756.2px;top:364.04px">0.738 V</div>
<div class="lv" style="left:818.6px;top:364.04px">1.313 V</div>
<div class="lv" style="left:881.0px;top:364.04px">1.086 V</div>
<div class="lh" style="left:1675.0px;top:145.7px">min</div>
<div class="lh" style="left:1737.5px;top:145.7px">max</div>
<div class="lh" style="left:1800.0px;top:145.7px">avg</div>
<div class="lrow alt" style="left:1595px;top:162.20px;width:294px"></div>
<div class="sw" style="left:1604.2px;top:173.40px;background:#7eb26d"></div>
<div class="lg" style="left:1623.5px;top:167.40px">3VCC</div>
<div class="lv" style="left:1675.0px;top:167.40px">3.344 V</div>
<div class="lv" style="left:1737.5px;top:167.40px">3.360 V</div>
<div class="lv" style="left:1800.0px;top:167.40px">3.360 V</div>
<div class="lrow" style="left:1595px;top:186.78px;width:294px"></div>
<div class="sw" style="left:1604.2px;top:197.98px;background:#eab839"></div>
<div class="lg" style="left:1623.5px;top:191.98px">3VSB</div>
<div class="lv" style="left:1675.0px;top:191.98px">3.424 V</div>
<div class="lv" style="left:1737.5px;top:191.98px">3.424 V</div>
<div class="lv" style="left:1800.0px;top:191.98px">3.424 V</div>
<div class="lrow alt" style="left:1595px;top:211.36px;width:294px"></div>
<div class="sw" style="left:1604.2px;top:222.56px;background:#6ed0e0"></div>
<div class="lg" style="left:1623.5px;top:216.56px">AVCC</div>
<div class="lv" style="left:1675.0px;top:216.56px">3.360 V</div>
<div class="lv" style="left:1737.5px;top:216.56px">3.376 V</div>
<div class="lv" style="left:1800.0px;top:216.56px">3.366 V</div>
<div class="lrow" style="left:1595px;top:235.94px;width:294px"></div>
<div class="sw" style="left:1604.2px;top:247.14px;background:#ef843c"></div>
<div class="lg" style="left:1623.5px;top:241.14px">VTT</div>
<div class="lv" style="left:1675.0px;top:241.14px">1.840 V</div>
<div class="lv" style="left:1737.5px;top:241.14px">1.848 V</div>
<div class="lv" style="left:1800.0px;top:241.14px">1.842 V</div>
<div class="lrow alt" style="left:1595px;top:260.52px;width:294px"></div>
<div class="sw" style="left:1604.2px;top:271.72px;background:#e24d42"></div>
<div class="lg" style="left:1623.5px;top:265.72px">Vcore</div>
<div class="lv" style="left:1675.0px;top:265.72px">0.720 V</div>
<div class="lv" style="left:1737.5px;top:265.72px">1.328 V</div>
<div class="lv" style="left:1800.0px;top:265.72px">1.058 V</div>
<div class="lrow" style="left:1595px;top:285.10px;width:294px"></div>
<div class="sw" style="left:1604.2px;top:296.30px;background:#1f78c1"></div>
<div class="lg" style="left:1623.5px;top:290.30px">Voltage #11</div>
<div class="lv" style="left:1675.0px;top:290.30px">0.184 V</div>
<div class="lv" style="left:1737.5px;top:290.30px">0.192 V</div>
<div class="lv" style="left:1800.0px;top:290.30px">0.192 V</div>
<div class="lrow alt" style="left:1595px;top:309.68px;width:294px"></div>
<div class="sw" style="left:1604.2px;top:320.88px;background:#ba43a9"></div>
<div class="lg" style="left:1623.5px;top:314.88px">Voltage #12</div>
<div class="lv" style="left:1675.0px;top:314.88px">0.136 V</div>
<div class="lv" style="left:1737.5px;top:314.88px">0.144 V</div>
<div class="lv" style="left:1800.0px;top:314.88px">0.143 V</div>
<div class="lrow" style="left:1595px;top:334.26px;width:294px"></div>
<div class="sw" style="left:1604.2px;top:345.46px;background:#705da0"></div>
<div class="lg" style="left:1623.5px;top:339.46px">Voltage #13</div>
<div class="lv" style="left:1675.0px;top:339.46px">1.800 V</div>
<div class="lv" style="left:1737.5px;top:339.46px">1.832 V</div>
<div class="lv" style="left:1800.0px;top:339.46px">1.826 V</div>
<div class="lrow alt" style="left:1595px;top:358.84px;width:294px"></div>
<div class="sw" style="left:1604.2px;top:370.04px;background:#508642"></div>
<div class="lg" style="left:1623.5px;top:364.04px">Voltage #14</div>
<div class="lv" style="left:1675.0px;top:364.04px">1.728 V</div>
<div class="lv" style="left:1737.5px;top:364.04px">1.736 V</div>
<div class="lv" style="left:1800.0px;top:364.04px">1.736 V</div>
<div class="lrow" style="left:1595px;top:383.42px;width:294px"></div>
<div class="sw" style="left:1604.2px;top:394.62px;background:#cca300"></div>
<div class="lg" style="left:1623.5px;top:388.62px">Voltage #7</div>
<div class="lv" style="left:1675.0px;top:388.62px">0.632 V</div>
<div class="lv" style="left:1737.5px;top:388.62px">0.688 V</div>
<div class="lv" style="left:1800.0px;top:388.62px">0.652 V</div>
<div class="lh" style="left:510.4px;top:505.6px">max</div>
<div class="lh" style="left:575.0px;top:505.6px">avg</div>
<div class="lrow alt" style="left:425px;top:522.10px;width:240px"></div>
<div class="sw" style="left:435.0px;top:533.30px;background:#7eb26d"></div>
<div class="lg" style="left:453.8px;top:527.30px">Download</div>
<div class="lv" style="left:510.4px;top:527.30px">1.582 MBs</div>
<div class="lv" style="left:575.0px;top:527.30px">308 kBs</div>
<div class="lrow" style="left:425px;top:546.68px;width:240px"></div>
<div class="sw" style="left:435.0px;top:557.88px;background:#eab839"></div>
<div class="lg" style="left:453.8px;top:551.88px">Upload</div>
<div class="lv" style="left:510.4px;top:551.88px">37 kBs</div>
<div class="lv" style="left:575.0px;top:551.88px">11 kBs</div>
<div class="lh" style="left:1141.5px;top:505.6px">max</div>
<div class="lh" style="left:1188.0px;top:505.6px">avg</div>
<div class="lrow alt" style="left:1087px;top:522.10px;width:191px"></div>
<div class="sw" style="left:1097.0px;top:533.30px;background:#7eb26d"></div>
<div class="lg" style="left:1115.8px;top:527.30px">Download</div>
<div class="lv" style="left:1141.5px;top:527.30px">0 Bs</div>
<div class="lv" style="left:1188.0px;top:527.30px">0 Bs</div>
<div class="lrow" style="left:1087px;top:546.68px;width:191px"></div>
<div class="sw" style="left:1097.0px;top:557.88px;background:#eab839"></div>
<div class="lg" style="left:1115.8px;top:551.88px">Upload</div>
<div class="lv" style="left:1141.5px;top:551.88px">0 Bs</div>
<div class="lv" style="left:1188.0px;top:551.88px">0 Bs</div>
<div class="abs" style="left:1890px;top:146px;width:5px;height:247px;background:#3c3b52;border-radius:3px"></div>
<svg width="12" height="8" style="left:84px;top:75.8px" viewBox="0 0 12 8"><path d="M0.7 1.0 L5.1 5.2 L9.5 1.0" fill="none" stroke="#8e8e8e" stroke-width="1.9"/></svg>
<div class="rowt" style="left:102px;top:66.1px">Volts</div>
<svg width="12" height="8" style="left:84px;top:435.8px" viewBox="0 0 12 8"><path d="M0.7 1.0 L5.1 5.2 L9.5 1.0" fill="none" stroke="#8e8e8e" stroke-width="1.9"/></svg>
<div class="rowt" style="left:102px;top:426.1px">Network Throughput</div>
<div class="abs" style="left:77px;top:50px;width:1829px;height:1px;background:#101113"></div>
<svg width="20" height="20" style="left:76px;top:12px" viewBox="0 0 20 20">
<rect x="0.0" y="0.0" width="8.8" height="8.8" rx="1.6" fill="#b4b4b4"/>
<rect x="10.2" y="0.0" width="8.8" height="8.8" rx="1.6" fill="#b4b4b4"/>
<rect x="0.0" y="10.2" width="8.8" height="8.8" rx="1.6" fill="#b4b4b4"/>
<rect x="10.2" y="10.2" width="8.8" height="8.8" rx="1.6" fill="#b4b4b4"/>
</svg>
<div class="abs" style="left:104.6px;top:11.6px;font-size:18.5px;line-height:22px;color:#e3e3e3;white-space:nowrap">ohm</div>
<svg width="8" height="5" style="left:148.6px;top:23.6px" viewBox="0 0 8 5"><path d="M0.4 0.2 L7.0 0.2 L3.7 3.7 Z" fill="#e0e0e0"/></svg>
<div class="abs" style="left:1663.6px;top:6px;width:2.4px;height:32px;background:#0d0d0f"></div>
<div class="nbtn" style="left:1405px;width:46px"></div>
<div class="nbtn" style="left:1455px;width:33px"></div>
<div class="nbtn" style="left:1492px;width:33px"></div>
<div class="nbtn" style="left:1529px;width:32px"></div>
<div class="nbtn" style="left:1565px;width:35px"></div>
<div class="nbtn" style="left:1614px;width:36px"></div>
<div class="nbtn" style="left:1666px;width:111px"></div>
<div class="nbtn" style="left:1781px;width:33px"></div>
<div class="nbtn" style="left:1818px;width:80px"></div>
<div class="abs" style="left:1849px;top:7px;width:1px;height:30px;background:#242426"></div>
<svg width="1906" height="52" viewBox="0 0 1906 52">
<defs><linearGradient id="pg" x1="0" y1="0" x2="0" y2="1"><stop offset="0" stop-color="#ff8a2b"/><stop offset="1" stop-color="#ffc412"/></linearGradient><linearGradient id="lg" x1="0" y1="0" x2="0" y2="1"><stop offset="0" stop-color="#f05a28"/><stop offset="1" stop-color="#fbca0a"/></linearGradient></defs>
<rect x="1416.0" y="19.8" width="3.3" height="9.1" fill="#ececec"/>
<rect x="1420.0" y="17.0" width="4.0" height="11.9" fill="#ececec"/>
<rect x="1424.7" y="21.8" width="3.4" height="7.1" fill="#ececec"/>
<rect x="1428.9" y="14.9" width="3.4" height="14.0" fill="#ececec"/>
<path d="M1433.9 16.6 h3.3 v3.6 h3.5 v3.3 h-3.5 v3.9 h-3.3 v-3.9 h-3.6 v-3.3 h3.6 Z" fill="url(#pg)" stroke="#2b2b2d" stroke-width="0.9"/>
<polygon points="1471.70,15.60 1473.64,20.03 1478.45,20.51 1474.84,23.72 1475.87,28.44 1471.70,26.00 1467.53,28.44 1468.56,23.72 1464.95,20.51 1469.76,20.03" fill="none" stroke="#a0a0a0" stroke-width="1.2" stroke-linejoin="miter"/>
<path d="M1511.5 23.2 v3 a1.6 1.6 0 0 1 -1.6 1.6 h-6.6 a1.6 1.6 0 0 1 -1.6 -1.6 v-8.6 a1.6 1.6 0 0 1 1.6 -1.6 h3.2" fill="none" stroke="#a0a0a0" stroke-width="1.3"/>
<path d="M1511.4 13.9 L1516.9 18.3 L1511.4 22.7 V20.3 C1508 20.3 1505.8 21.4 1504.7 25.6 C1503.3 20 1506.2 16.3 1511.4 16.3 Z" fill="#a8a8a8"/>
<path d="M1538.4 15.6 h9.4 l3.6 3.6 v9.3 h-13 Z" fill="none" stroke="#a0a0a0" stroke-width="1.35" stroke-linejoin="round"/>
<path d="M1541.2 15.8 v4 h5.6 v-4" fill="none" stroke="#a0a0a0" stroke-width="1.2"/>
<rect x="1544.2" y="16.4" width="1.5" height="2.6" fill="#a0a0a0"/>
<path d="M1541 28.4 v-4.6 h7.8 v4.6" fill="none" stroke="#a0a0a0" stroke-width="1.2"/>
<rect x="1541.6" y="25.4" width="6.6" height="1.3" fill="#77777a"/>
<path d="M1581.05 15.87 L1581.41 13.77 L1583.59 13.77 L1583.95 15.87 L1585.74 16.61 L1587.47 15.38 L1589.02 16.93 L1587.79 18.66 L1588.53 20.45 L1590.63 20.81 L1590.63 22.99 L1588.53 23.35 L1587.79 25.14 L1589.02 26.87 L1587.47 28.42 L1585.74 27.19 L1583.95 27.93 L1583.59 30.03 L1581.41 30.03 L1581.05 27.93 L1579.26 27.19 L1577.53 28.42 L1575.98 26.87 L1577.21 25.14 L1576.47 23.35 L1574.37 22.99 L1574.37 20.81 L1576.47 20.45 L1577.21 18.66 L1575.98 16.93 L1577.53 15.38 L1579.26 16.61 Z M1580.40 21.90 a2.10 2.10 0 1 0 4.20 0 a2.10 2.10 0 1 0 -4.20 0 Z" fill="#7d7d7d" fill-rule="evenodd" stroke="#7d7d7d" stroke-width="1.3" stroke-linejoin="round"/>
<rect x="1624" y="14.4" width="16.4" height="10.6" rx="1.2" fill="none" stroke="#a2a2a2" stroke-width="2.1"/>
<path d="M1630.4 25.4 h3.4 l0.6 2.2 h2 v1.1 h-8.6 v-1.1 h2 Z" fill="#9c9c9c"/>
<circle cx="1679.3" cy="21.2" r="5.6" fill="none" stroke="#c4c4c4" stroke-width="1.3"/>
<path d="M1679.4 17.6 V21.4 H1676.4" fill="none" stroke="#c4c4c4" stroke-width="1.2"/>
<path d="M1758.6 19.2 h8.8 l-4.4 4.6 Z" fill="#b9b9b9"/>
<path d="M1879.8 19.2 h8.8 l-4.4 4.6 Z" fill="#b9b9b9"/>
<circle cx="1796" cy="21.2" r="5.2" fill="none" stroke="#b0b0b0" stroke-width="1.9"/>
<path d="M1799.8 25.2 L1804.4 29.6" stroke="#b0b0b0" stroke-width="2.4" stroke-linecap="round"/>
<rect x="1793.2" y="20.3" width="5.6" height="1.7" fill="#b0b0b0"/>
<path d="M1827.6 20.4 A6.3 6.3 0 0 1 1838.6 17.4" fill="none" stroke="#a8a8a8" stroke-width="2.3"/>
<path d="M1840.8 14.6 V20.6 H1834.8 Z" fill="#a8a8a8"/>
<path d="M1840.2 23.8 A6.3 6.3 0 0 1 1829.2 26.8" fill="none" stroke="#a8a8a8" stroke-width="2.3"/>
<path d="M1827 29.6 V23.6 H1833 Z" fill="#a8a8a8"/>
</svg>
<div class="abs" style="left:1688.6px;top:14.6px;font-size:13.1px;line-height:16px;color:#d4d4d5;-webkit-text-stroke:0.3px #d4d4d5;white-space:nowrap">Last 1 hour</div>
<div class="abs" style="left:1853.6px;top:14.6px;font-size:13.1px;line-height:16px;color:#eb7b18;-webkit-text-stroke:0.3px #eb7b18;white-space:nowrap">10s</div>
<div id="side"></div>
<svg width="60" height="764" viewBox="0 0 60 764" style="z-index:6">
<defs><linearGradient id="lg2" x1="0" y1="0" x2="0" y2="1"><stop offset="0" stop-color="#f05a28"/><stop offset="0.35" stop-color="#f2672a"/><stop offset="1" stop-color="#fbca0a"/></linearGradient></defs>
<defs><linearGradient id="lg3" gradientUnits="userSpaceOnUse" x1="0" y1="95" x2="0" y2="590"><stop offset="0" stop-color="#f05a28"/><stop offset="0.3" stop-color="#f2682a"/><stop offset="1" stop-color="#fcc90c"/></linearGradient></defs>
<g transform="scale(0.06281)">
<polygon points="465,95 525,160 595,146 622,165 658,240 682,300 686,330 668,336 645,350 640,390 668,455 595,505 545,590 455,545 335,572 322,470 220,400 300,275 268,180 400,165" fill="url(#lg3)" stroke="url(#lg3)" stroke-width="7" stroke-linejoin="round"/>
<circle cx="492" cy="350" r="143" fill="#000"/>
<path d="M520 205 Q632 205 668 336 L640 352 Q600 300 540 260 Z" fill="#000"/>
<path d="M652 440 C650 380 612 300 505 287 A62 62 0 0 0 433 350 A62 62 0 0 0 480 412 L515 416" fill="none" stroke="url(#lg3)" stroke-width="34" stroke-linejoin="round"/>
<path d="M640 470 L668 455 L640 390 L620 360 L600 420 Z" fill="url(#lg3)"/>
</g>
<path d="M28.8 103.2 h4.6 v6 h6.2 v4.6 h-6.2 v6.2 h-4.6 v-6.2 h-6.2 v-4.6 h6.2 Z" fill="#9b9b9b"/>
<rect x="20.0" y="146.4" width="10.2" height="10" rx="1.8" fill="#8e8e8e"/>
<rect x="31.8" y="146.4" width="10.2" height="10" rx="1.8" fill="#8e8e8e"/>
<rect x="20.0" y="158.0" width="10.2" height="10" rx="1.8" fill="#8e8e8e"/>
<rect x="31.8" y="158.0" width="10.2" height="10" rx="1.8" fill="#8e8e8e"/>
<circle cx="30.9" cy="200.9" r="10.95" fill="#8e8e8e"/>
<polygon points="34.62,195.69 32.87,200.57 36.11,204.62 31.23,202.87 27.18,206.11 28.93,201.23 25.69,197.18 30.57,198.93" fill="#000"/>
<polygon points="29.40,191.92 32.35,198.86 39.88,199.40 32.94,202.35 32.40,209.88 29.45,202.94 21.92,202.40 28.86,199.45" fill="#000"/>
<circle cx="30.9" cy="200.9" r="0.9" fill="#8e8e8e"/>
<path d="M31 233.8 C32 233.8 32.6 234.4 32.8 235.2 C36.4 236.2 38.5 239 38.5 242.5 V248 C38.5 249 38.7 249.5 39.1 249.8 A1.1 1.1 0 0 1 39.1 252 H22.9 A1.1 1.1 0 0 1 22.9 249.8 C23.3 249.5 23.5 249 23.5 248 V242.5 C23.5 239 25.6 236.2 29.2 235.2 C29.4 234.4 30 233.8 31 233.8 Z" fill="#8e8e8e"/>
<path d="M28 252.8 h6 a3 3 0 0 1 -6 0 Z" fill="#8e8e8e"/>
<path d="M29.18 281.42 L29.62 278.69 L32.38 278.69 L32.82 281.42 L35.08 282.35 L37.31 280.73 L39.27 282.69 L37.65 284.92 L38.58 287.18 L41.31 287.62 L41.31 290.38 L38.58 290.82 L37.65 293.08 L39.27 295.31 L37.31 297.27 L35.08 295.65 L32.82 296.58 L32.38 299.31 L29.62 299.31 L29.18 296.58 L26.92 295.65 L24.69 297.27 L22.73 295.31 L24.35 293.08 L23.42 290.82 L20.69 290.38 L20.69 287.62 L23.42 287.18 L24.35 284.92 L22.73 282.69 L24.69 280.73 L26.92 282.35 Z M28.30 289.00 a2.70 2.70 0 1 0 5.40 0 a2.70 2.70 0 1 0 -5.40 0 Z" fill="#8e8e8e" fill-rule="evenodd" stroke="#8e8e8e" stroke-width="1.3" stroke-linejoin="round"/>
<path d="M31 323.3 C27.8 325 24.8 325.7 21.9 325.7 C21.6 331.5 24 337.6 31 343 C38 337.6 40.4 331.5 40.1 325.7 C37.2 325.7 34.2 325 31 323.3 Z" fill="none" stroke="#8e8e8e" stroke-width="1.9" stroke-linejoin="round"/>
<path d="M31 327 C33.2 328 35 328.5 37.2 328.7 C37 332.6 35.4 336.6 31 340 Z" fill="#8e8e8e"/>
</svg>
</body></html>
